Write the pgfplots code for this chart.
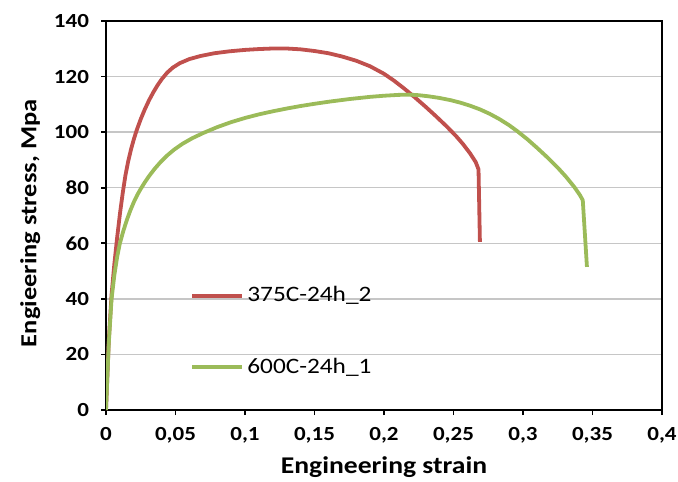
\documentclass[border=0pt]{standalone}
\usepackage{fontspec}
\setmainfont{Carlito}[FakeStretch=1.15]
\usepackage{pgfplots}
\pgfplotsset{compat=1.18}
\definecolor{exred}{RGB}{192,80,77}
\definecolor{exgreen}{RGB}{155,187,89}
\begin{document}
\begin{tikzpicture}
\useasboundingbox (-53pt,-35.5pt) rectangle (286pt,205pt);
\begin{axis}[
  at={(0,0)}, anchor=south west,
  scale only axis, width=278pt, height=194.5pt,
  xmin=0, xmax=0.4, ymin=0, ymax=140,
  xtick={0,0.05,0.1,0.15,0.2,0.25,0.3,0.35,0.4},
  xticklabels={0,{0,05},{0,1},{0,15},{0,2},{0,25},{0,3},{0,35},{0,4}},
  ytick={0,20,40,60,80,100,120,140},
  /pgf/number format/assume math mode=true,
  ticklabel style={font=\fontsize{10}{12}\selectfont\bfseries},
  yticklabel style={xshift=-2.5pt},
  xticklabel style={yshift=-2.5pt},
  xlabel style={font=\fontsize{12}{14}\selectfont\bfseries},
  ylabel style={font=\fontsize{11.5}{13}\selectfont\bfseries, at={(ticklabel cs:0.48)}},
  xlabel={Engineering strain},
  ylabel={Engieering stress, Mpa},
  tick align=outside, major tick length=2.5pt,
  tick style={black, line width=0.9pt},
  axis line style={black, line width=1pt},
  ymajorgrids, grid style={gray!45, line width=0.7pt},
  xtick pos=bottom, ytick pos=left,
  legend style={at={(axis cs:0.0604,45.6)}, anchor=north west, draw=none, fill=none,
    inner sep=0pt, row sep=23.5pt, font=\fontsize{11}{13}\selectfont,
    nodes={inner sep=1.5pt}},
  legend cell align=left,
  legend image code/.code={\draw[#1, line width=2pt] (0pt,0pt) -- (25pt,0pt);},
]
\addplot[exred, line width=1.9pt, line join=round] coordinates {
(0,0) (0.002,25) (0.004,41.5) (0.006,52.5) (0.008,62) (0.010,70.5) (0.012,78)
(0.014,84.5) (0.016,89.6) (0.018,93.8) (0.020,97.4) (0.022,100.6) (0.025,104.7)
(0.028,108.3) (0.031,111.5) (0.034,114.3) (0.037,116.8) (0.040,119) (0.044,121.4)
(0.048,123.2) (0.053,124.8) (0.06,126.3) (0.068,127.4) (0.078,128.4) (0.089,129.1)
(0.10,129.6) (0.11,129.9) (0.12,130.1) (0.13,130.1) (0.14,129.8) (0.15,129.2)
(0.16,128.4) (0.17,127.2) (0.18,125.7) (0.19,123.7) (0.2,121) (0.207,118.6)
(0.214,115.9) (0.222,112.6) (0.23,109.1) (0.237,105.9) (0.245,102.1)
(0.252,98.5) (0.257,95.6) (0.262,92.3) (0.266,89.2) (0.268,86.6) (0.269,60.5)
};
\addlegendentry{375C-24h\_2}
\addplot[exgreen, line width=1.9pt, line join=round] coordinates {
(0,0) (0.002,24) (0.004,40) (0.006,48.5) (0.008,55) (0.010,60) (0.0125,64.5)
(0.015,68.4) (0.0175,71.8) (0.020,74.8) (0.0225,77.4) (0.025,79.6) (0.028,82)
(0.031,84.2) (0.035,86.8) (0.039,89.1) (0.044,91.6) (0.049,93.7) (0.055,95.8)
(0.062,97.8) (0.07,99.7) (0.08,101.8) (0.09,103.6) (0.1,105.1) (0.11,106.4)
(0.12,107.5) (0.13,108.5) (0.14,109.4) (0.15,110.2) (0.161,111) (0.175,111.9)
(0.19,112.7) (0.2,113.1) (0.21,113.4) (0.218,113.5) (0.225,113.3) (0.232,112.9)
(0.24,112.3) (0.248,111.5) (0.255,110.6) (0.262,109.5) (0.269,108.2)
(0.276,106.6) (0.283,104.7) (0.29,102.5) (0.296,100.3) (0.303,97.5) (0.31,94.4)
(0.318,90.7) (0.325,87.2) (0.331,83.9) (0.337,80.2) (0.341,77.3) (0.343,75.5)
(0.346,51.5)
};
\addlegendentry{600C-24h\_1}
\end{axis}
\end{tikzpicture}
\end{document}
